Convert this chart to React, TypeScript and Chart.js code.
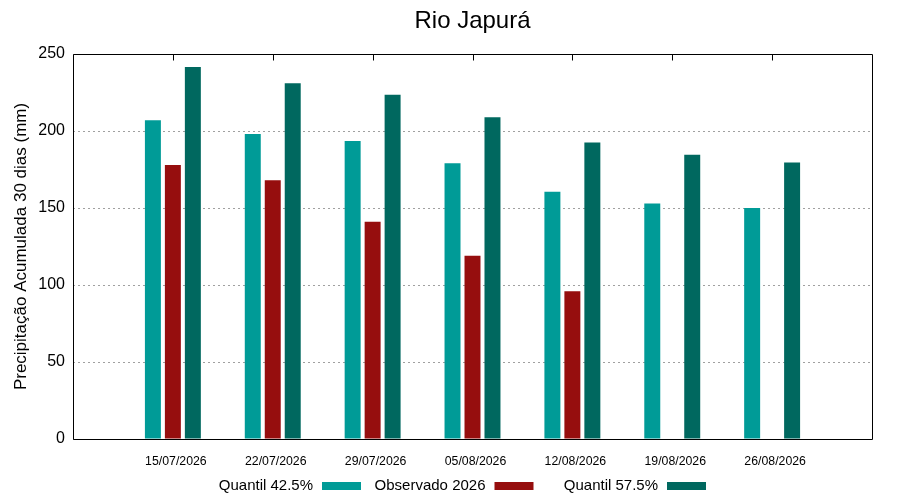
import React, { useEffect, useRef } from 'react';
import { Chart, registerables } from 'chart.js';

Chart.register(...registerables);

const categories = ['15/07/2026', '22/07/2026', '29/07/2026', '05/08/2026', '12/08/2026', '19/08/2026', '26/08/2026'];
const quantil425 = [207, 198, 193.5, 179, 160.5, 153, 150];
const observado2026 = [178, 168, 141, 119, 96];
const quantil575 = [241.5, 231, 223.5, 209, 192.5, 184.5, 179.5];
const seriesLabels = ['Quantil 42.5%', 'Observado 2026', 'Quantil 57.5%'];
const seriesColors = ['#009b97', '#960e0e', '#00685f'];
const yMin = 0;
const yMax = 250;
const yStep = 50;

const FONT = "'Liberation Sans', Arial, sans-serif";

const framePlugin = {
  id: 'frame',
  afterDatasetsDraw(chart: any) {
    const { ctx, chartArea, scales } = chart;
    ctx.save();
    ctx.strokeStyle = '#000';
    ctx.lineWidth = 1;
    ctx.setLineDash([]);
    const l = Math.round(chartArea.left) + 0.5;
    const r = Math.round(chartArea.right) + 0.5;
    const t = Math.round(chartArea.top) + 0.5;
    const b = Math.round(chartArea.bottom) + 0.5;
    ctx.beginPath();
    ctx.rect(l, t, r - l, b - t);
    ctx.stroke();
    categories.forEach((_, i) => {
      const x = Math.round(scales.x.getPixelForValue(i)) + 0.5;
      ctx.beginPath();
      ctx.moveTo(x, t);
      ctx.lineTo(x, t + 6);
      ctx.stroke();
    });
    ctx.restore();
  },
};

const legendPlugin = {
  id: 'gnuLegend',
  afterDraw(chart: any) {
    const { ctx } = chart;
    ctx.save();
    ctx.font = `15px ${FONT}`;
    ctx.textAlign = 'right';
    ctx.textBaseline = 'middle';
    const y = 486;
    chart.data.datasets.forEach((ds: any, i: number) => {
      const sx = 322 + i * 172.5;
      ctx.fillStyle = '#000';
      ctx.fillText(ds.label, sx - 9, y);
      ctx.fillStyle = ds.backgroundColor;
      ctx.fillRect(sx, y - 4, 39, 8);
    });
    ctx.restore();
  },
};

export default function App() {
  const ref = useRef<HTMLCanvasElement | null>(null);

  useEffect(() => {
    document.body.style.margin = '0';
    const canvas = ref.current;
    if (!canvas) return;
    const toXY = (arr: number[]) => arr.map((v, i) => ({ x: i, y: v }));
    const chart = new Chart(canvas, {
      type: 'bar',
      data: {
        datasets: [
          { label: seriesLabels[0], data: toXY(quantil425), backgroundColor: seriesColors[0] },
          { label: seriesLabels[1], data: toXY(observado2026), backgroundColor: seriesColors[1] },
          { label: seriesLabels[2], data: toXY(quantil575), backgroundColor: seriesColors[2] },
        ],
      },
      options: {
        animation: false,
        responsive: false,
        devicePixelRatio: 1,
        layout: { padding: { left: 0, right: 28, top: 0, bottom: 0 } },
        datasets: {
          bar: { categoryPercentage: 0.6, barPercentage: 0.8, borderWidth: 0 },
        },
        plugins: {
          legend: { display: false },
          tooltip: { enabled: false },
          title: {
            display: true,
            text: 'Rio Japurá',
            fullSize: false,
            color: '#000',
            font: { family: FONT, size: 24, weight: 'normal' },
            padding: { top: 6.5, bottom: 18.7 },
          },
        },
        scales: {
          x: {
            type: 'linear',
            min: -1,
            max: categories.length,
            offset: false,
            grid: { display: false, drawTicks: false },
            border: { display: false },
            afterFit: (s: any) => { s.height = 61; },
            ticks: {
              stepSize: 1,
              autoSkip: false,
              maxRotation: 0,
              padding: 15.5,
              labelOffset: 3,
              color: '#000',
              font: { family: FONT, size: 12.3 },
              callback: (v: any) => categories[v as number] ?? '',
            },
          },
          y: {
            min: yMin,
            max: yMax,
            grid: { color: '#a0a0a0', lineWidth: 1, drawTicks: false },
            border: { display: false, dash: [2, 3] },
            afterFit: (s: any) => { s.width = 73; },
            ticks: {
              stepSize: yStep,
              padding: 8,
              color: '#000',
              font: { family: FONT, size: 16 },
            },
            title: {
              display: true,
              text: 'Precipitação Acumulada 30 dias (mm)',
              color: '#000',
              font: { family: FONT, size: 17 },
              padding: { top: 11, bottom: 0 },
            },
          },
        },
      },
      plugins: [framePlugin, legendPlugin],
    } as any);
    return () => chart.destroy();
  }, []);

  return (
    <div style={{ position: 'fixed', left: 0, top: 0, width: 900, height: 500, background: '#fff' }}>
      <canvas ref={ref} width={900} height={500} />
    </div>
  );
}
